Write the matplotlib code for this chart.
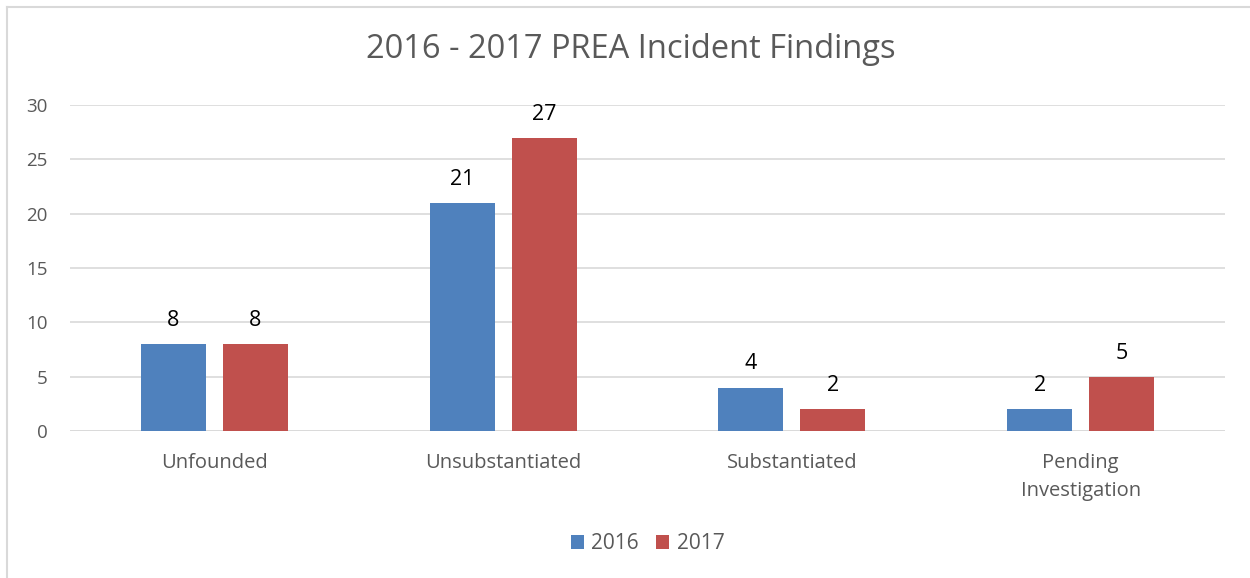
import numpy as np
import matplotlib.pyplot as plt
from matplotlib.lines import Line2D

categories = ["Unfounded", "Unsubstantiated", "Substantiated", "Pending\nInvestigation"]
series_names = ["2016", "2017"]
values_2016 = [8, 21, 4, 2]
values_2017 = [8, 27, 2, 5]

BLUE = "#4f81bd"
RED = "#c0504d"
GRAY = "#595959"

plt.rcParams['font.family'] = ['Open Sans', 'DejaVu Sans']

fig = plt.figure(figsize=(12.5, 5.78), dpi=100)
ax = fig.add_axes([70 / 1250, 1 - 431 / 578, 1155 / 1250, 326 / 578])

x = np.arange(len(categories))
width = 0.225
offset = 0.142

b1 = ax.bar(x - offset, values_2016, width, color=BLUE, label=series_names[0], zorder=3)
b2 = ax.bar(x + offset, values_2017, width, color=RED, label=series_names[1], zorder=3)

for bars in (b1, b2):
    for rect in bars:
        h = rect.get_height()
        ax.text(rect.get_x() + rect.get_width() / 2, h + 1.2, f"{h:g}",
                ha='center', va='bottom', fontsize=15.5, color='black')

ax.set_xlim(-0.5, len(categories) - 0.5)
ax.set_ylim(0, 30)
ax.set_yticks(range(0, 31, 5))
ax.grid(axis='y', color='#d9d9d9', linewidth=1.2, zorder=0)
ax.set_axisbelow(True)
for s in ax.spines.values():
    s.set_visible(False)
ax.axhline(0, color='#d9d9d9', linewidth=1.2, zorder=1)

ax.set_xticks(x)
ax.set_xticklabels(categories, fontsize=14.5, color=GRAY, linespacing=1.55)
ax.tick_params(axis='x', length=0, pad=16)
ax.tick_params(axis='y', length=0, pad=16, labelsize=13.5, labelcolor=GRAY)

fig.text(0.505, 1 - 50 / 578, "2016 - 2017 PREA Incident Findings",
         ha='center', va='center', fontsize=23.5, color=GRAY)

ax.legend(loc='center', bbox_to_anchor=(0.5, -0.345), ncol=2, frameon=False,
          fontsize=15, labelcolor=GRAY, handlelength=0.65, handleheight=0.65,
          handletextpad=0.35, columnspacing=0.8)

# chart border (top and left edges visible)
fig.add_artist(Line2D([6.5 / 1250, 1], [1 - 6.5 / 578] * 2, color='#d9d9d9', linewidth=1.5))
fig.add_artist(Line2D([6.5 / 1250] * 2, [0, 1 - 6.5 / 578], color='#d9d9d9', linewidth=1.5))

fig.savefig("out.png", dpi=100)
